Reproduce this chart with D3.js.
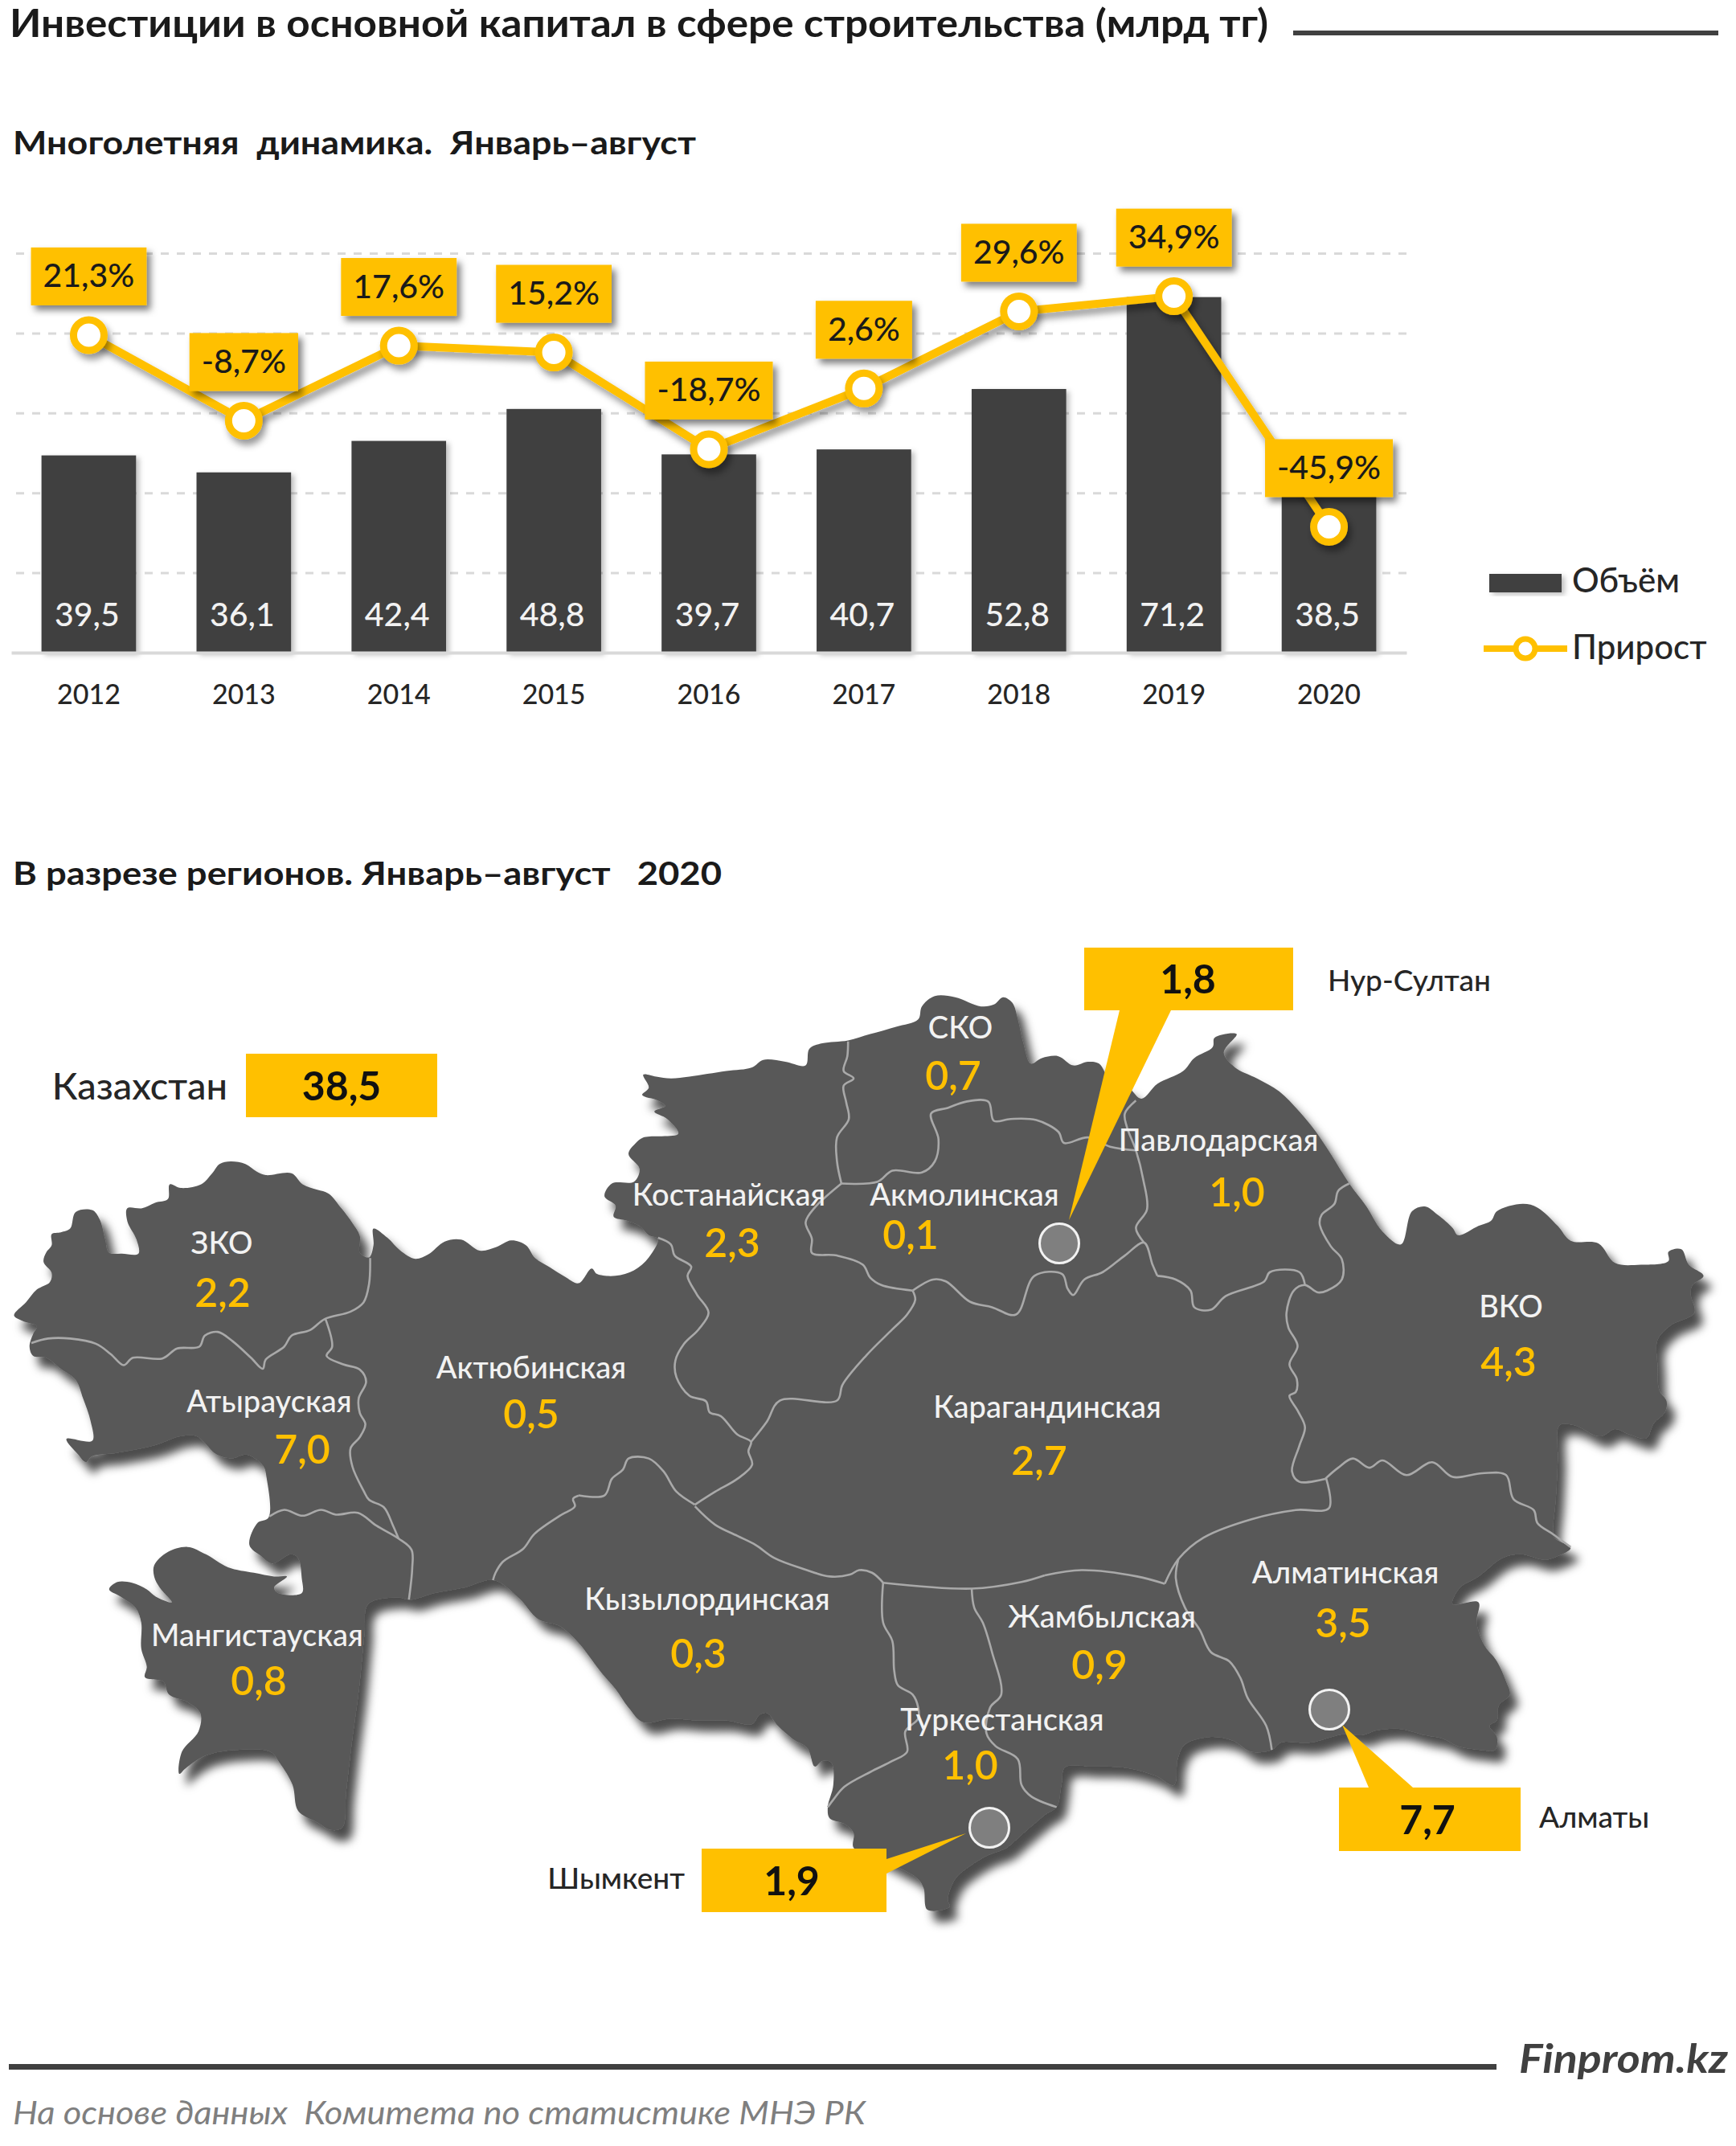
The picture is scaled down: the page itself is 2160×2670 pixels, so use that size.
<!DOCTYPE html>
<html><head><meta charset="utf-8">
<script src="https://cdn.jsdelivr.net/npm/d3@7/dist/d3.min.js"></script>
<style>html,body{margin:0;padding:0;background:#fff}svg{display:block}text{font-family:Lato,"Open Sans","Noto Sans",sans-serif}</style>
</head><body><div id="c"></div>
<script>
// ---------- chart data ----------
const years = [2012,2013,2014,2015,2016,2017,2018,2019,2020];
const volume = [39.5,36.1,42.4,48.8,39.7,40.7,52.8,71.2,38.5];
const growth = [21.3,-8.7,17.6,15.2,-18.7,2.6,29.6,34.9,-45.9];
const regionNames = ["ЗКО","Атырауская","Актюбинская","Костанайская","Акмолинская","СКО","Павлодарская","ВКО","Карагандинская","Кызылординская","Мангистауская","Туркестанская","Жамбылская","Алматинская"];
const regionValues = [2.2,7.0,0.5,2.3,0.1,0.7,1.0,4.3,2.7,0.3,0.8,1.0,0.9,3.5];
const cityNames = ["Нур-Султан","Алматы","Шымкент"];
const cityValues = [1.8,7.7,1.9];
const countryName = "Казахстан";
const countryValue = 38.5;
// ---------- layout of the map labels [name x,y, value x,y] ----------
const regionLabelPos = [[276,1547,277,1609],[335,1744,376,1804],[661,1702,661,1760],[907,1487,911,1547],[1200,1487,1133,1537],[1195,1279,1186,1339],[1516,1419,1539,1484],[1880,1626,1877,1695],[1303,1751,1293,1818],[880,1990,869,2058],[320,2035,322,2092],[1247,2140,1207,2197],[1371,2012,1368,2072],[1674,1957,1671,2020]];
// ---------- traced map (crop origin + pixel trace of each piece) ----------
const O7=[0,1400],O8=[720,1220],O9=[1440,1220],O10=[100,1780],O11=[720,1780],O12=[1300,1780];
const outlineTrace = [
[O7,[[38,515],[70,480],[100,445],[135,425],[140,400],[118,370],[125,345],[140,325],[140,295],[165,290],[190,280],[205,235],[250,230],[270,255],[285,310],[295,345],[330,348],[375,348],[370,310],[345,260],[345,225],[385,225],[420,210],[455,200],[460,160],[490,170],[545,160],[575,130],[595,105],[625,98],[665,105],[695,125],[720,135],[790,130],[820,160],[860,175],[890,185],[925,225],[955,265],[975,300],[975,345],[1000,358],[1012,325],[1012,280],[1050,305],[1085,340],[1125,362],[1160,350],[1205,315],[1250,310],[1300,340],[1345,330],[1385,312],[1425,325],[1450,360],[1490,385],[1530,410]]],
[O8,[[0,820],[35,780],[50,795],[100,800],[150,785],[190,750],[215,700],[190,690],[165,665],[130,650],[95,640],[100,610],[70,585],[90,550],[150,545],[165,510],[135,470],[155,440],[175,425],[270,415],[240,375],[205,355],[235,340],[215,325],[172,310],[190,290],[175,255],[210,260],[250,265],[300,260],[400,245],[470,235],[500,215],[560,220],[615,230],[625,185],[660,170],[730,162],[790,145],[860,125],[920,105],[930,70],[965,42],[1020,45],[1090,70],[1125,65],[1150,45],[1175,60],[1190,105],[1205,170],[1225,225],[1255,210],[1300,205],[1340,230],[1380,220],[1410,225],[1440,270],[1490,290],[1525,320]]],
[O9,[[0,280],[70,245],[100,210],[150,180],[155,155],[215,145],[180,195],[210,235],[270,265],[330,300],[385,355],[430,410],[470,470],[520,550],[565,610],[610,680],[660,715],[690,625],[725,612],[760,635],[800,670],[815,690],[870,665],[905,650],[920,625],[990,605],[1030,615],[1085,665],[1120,705],[1195,712],[1240,765],[1310,770],[1385,760],[1385,735],[1420,728],[1440,770],[1480,800],[1450,825],[1445,850],[1455,900],[1390,935],[1355,975],[1355,1040],[1360,1110],[1380,1140],[1375,1170],[1345,1200],[1325,1240],[1280,1230],[1240,1215],[1200,1235],[1130,1205],[1090,1205],[1085,1300],[1080,1400],[1072,1495]]],
[O12,[[1380,290],[1425,318],[1390,340],[1355,350],[1290,335],[1240,345],[1175,395],[1125,425],[1105,470],[1175,465],[1170,520],[1190,580],[1225,625],[1250,680],[1260,715],[1230,745],[1225,785],[1205,800],[1225,830],[1220,865],[1180,865],[1120,855],[1080,835],[1030,825],[960,808],[900,812],[860,825],[810,822],[720,845],[640,845],[615,865],[560,870],[510,840],[450,830],[380,850],[360,890],[350,960],[300,935],[230,915],[130,910],[55,912],[45,960]]],
[O11,[[1295,1020],[1265,1040],[1235,1065],[1195,1100],[1160,1130],[1110,1150],[1060,1180],[1020,1215],[1000,1270],[1005,1290],[945,1298],[935,1240],[920,1215],[860,1180],[800,1150],[745,1130],[745,1090],[720,1065],[680,1050],[675,1020],[690,960],[685,900],[660,895],[640,910],[620,860],[580,835],[540,800],[510,765],[490,770],[470,795],[400,785],[320,785],[250,780],[175,790],[135,750],[100,700],[65,660],[20,600]]],
[O10,[[1350,575],[1300,530],[1240,510],[1190,455],[1120,405],[1040,425],[960,440],[895,458],[860,452],[780,470],[770,550],[755,700],[735,850],[720,980],[710,1075],[680,1082],[640,1060],[590,1030],[575,960],[540,900],[515,870],[420,865],[340,880],[285,915],[268,930],[275,870],[320,815],[325,765],[290,735],[240,715],[225,680],[175,668],[180,640],[165,590],[165,520],[150,480],[110,450],[78,430],[100,410],[140,412],[180,430],[205,450],[248,465],[215,425],[200,395],[200,365],[235,330],[290,315],[340,335],[400,370],[470,385],[525,395],[560,395],[525,425],[535,440],[600,440],[600,400],[590,345],[570,335],[520,360],[490,340],[458,310],[480,250],[510,235],[505,130],[495,95],[450,65],[410,75],[370,65],[315,15],[270,15],[200,40],[100,60],[30,70],[15,85]]],
[O7,[[210,890],[180,850],[250,855],[245,800],[225,740],[205,690],[165,660],[125,630],[90,625],[80,600],[90,565],[100,545],[60,530]]]
];
const borderTrace = [
[O7,[[85,590],[130,578],[190,578],[260,592],[300,620],[335,650],[360,630],[440,632],[480,605],[540,600],[555,570],[590,560],[630,585],[680,630],[712,660],[720,635],[770,600],[790,570],[840,555],[880,525],[950,505],[985,480],[1000,430],[1003,360]]],
[O7,[[882,525],[900,600],[885,625],[930,648],[975,662],[992,695],[972,740],[975,780],[990,810],[975,845],[950,875],[955,925],[985,990],[1000,1015],[1040,1035],[1065,1085],[1080,1120]]],
[O7,[[730,1060],[770,1042],[820,1058],[870,1042],[910,1055],[970,1050],[1020,1085],[1080,1120],[1115,1150],[1117,1200],[1108,1285]]],
[O8,[[215,697],[250,715],[260,745],[305,775],[295,800],[320,850],[352,900],[325,945],[285,985],[262,1030],[265,1075],[300,1125],[345,1140],[355,1170],[385,1180],[430,1230],[467,1250],[460,1275],[470,1312],[430,1350],[370,1385],[315,1420]]],
[O8,[[315,1420],[265,1385],[230,1330],[190,1295],[135,1295],[120,1325],[90,1350],[70,1395],[0,1395]]],
[O10,[[1350,176],[1335,185],[1340,205],[1300,230],[1230,280],[1200,320],[1145,355],[1125,385],[1118,405]]],
[O8,[[467,1250],[510,1195],[545,1138],[700,1138],[715,1095],[780,1015],[850,945],[890,905],[912,865],[905,840]]],
[O8,[[905,840],[820,825],[790,805],[770,770],[700,745],[632,738],[632,700],[615,655],[640,615],[712,550]]],
[O8,[[730,165],[728,205],[718,245],[745,265],[718,285],[725,330],[732,375],[700,425],[700,490],[712,550]]],
[O8,[[712,550],[810,545],[850,515],[930,520],[965,490],[975,430],[955,360],[1000,345],[1050,328],[1110,328],[1125,380],[1170,375],[1240,378],[1300,410],[1315,440],[1380,425],[1440,450],[1510,460]]],
[O8,[[1510,325],[1480,360],[1485,395],[1510,460],[1530,540],[1540,620],[1510,670],[1532,710]]],
[O8,[[905,840],[960,810],[995,815],[1060,870],[1120,885],[1185,905],[1235,800],[1310,795],[1325,835],[1340,852],[1370,810],[1420,790],[1480,745],[1532,710],[1555,770],[1568,800]]],
[O9,[[0,800],[50,810],[90,840],[100,885],[145,892],[185,855],[290,815],[305,790],[385,790],[400,825]]],
[O9,[[520,550],[490,570],[480,605],[445,635],[440,660],[470,720],[500,755],[500,810],[460,840],[435,845],[400,825],[370,840],[350,900],[355,940],[380,990],[358,1040],[378,1080],[375,1115],[358,1125],[380,1165],[400,1210],[385,1260],[365,1330],[385,1358],[455,1350]]],
[O9,[[455,1350],[490,1320],[530,1295],[575,1320],[610,1300],[675,1340],[745,1305],[800,1345],[880,1335],[945,1340],[965,1405],[1020,1435],[1030,1470],[1072,1500],[1120,1535]]],
[O12,[[762,128],[770,210],[680,215],[560,240],[430,290],[362,348],[325,415]]],
[O12,[[362,348],[355,400],[380,480],[420,540],[450,600],[500,625],[530,670],[550,725],[600,800],[615,865]]],
[O12,[[325,415],[250,395],[100,378],[0,392]]],
[O11,[[1263,392],[1200,410],[1065,428],[825,412]]],
[O11,[[315,205],[370,255],[430,285],[480,310],[530,345],[610,375],[680,395],[735,390],[760,378],[795,385],[825,412]]],
[O11,[[825,412],[825,520],[850,570],[855,650],[865,690],[905,715],[920,750],[920,780],[885,815],[890,870],[850,895],[790,925],[720,965],[690,1000],[675,1020]]],
[O11,[[1065,428],[1072,480],[1095,520],[1120,600],[1145,715],[1115,750],[1105,820],[1130,855],[1190,890],[1200,960],[1225,990],[1295,1020]]]
];
// ---------- drawing ----------
const YEL="#FFC000", DK="#404040", MAP="#595959", BORDER="#a9a9a9";
const fmt = v => d3.format(".1f")(v).replace(".",",").replace("−","-");
const svg = d3.select("#c").append("svg").attr("width",2160).attr("height",2670).attr("viewBox","0 0 2160 2670");
const defs = svg.append("defs");
function shadow(id,dx,dy,sd,op){
  defs.append("filter").attr("id",id).attr("x","-20%").attr("y","-20%").attr("width","140%").attr("height","140%")
   .append("feDropShadow").attr("dx",dx).attr("dy",dy).attr("stdDeviation",sd).attr("flood-color","#000").attr("flood-opacity",op);
}
shadow("sMap",10,14,6,.7); shadow("sBox",5,6,4,.5); shadow("sLine",4,7,4,.4); shadow("sBar",4,3,3,.25);

function txt(g,s,x,y,o={}){
  const t=g.append("text").attr("x",x).attr("y",y-2).attr("dominant-baseline","central")
    .attr("text-anchor",o.anchor||"middle").attr("font-size",o.size||36).attr("fill",o.fill||"#262626")
    .attr("font-weight",o.weight||500).attr("font-style",o.italic?"italic":"normal").text(s);
  if(o.width){t.attr("textLength",o.width).attr("lengthAdjust","spacingAndGlyphs");}
  return t;
}
// headings
txt(svg,"Инвестиции в основной капитал в сфере строительства (млрд тг)",12,29,{anchor:"start",size:48,weight:700,width:1566,fill:"#1a1a1a"});
svg.append("rect").attr("x",1609).attr("y",38).attr("width",529).attr("height",6).attr("fill",DK);
txt(svg,"Многолетняя  динамика.  Январь–август",16,179,{anchor:"start",size:40,weight:700,width:850,fill:"#1a1a1a"}).style("white-space","pre");
txt(svg,"В разрезе регионов. Январь–август   2020",16,1088,{anchor:"start",size:40,weight:700,width:882,fill:"#1a1a1a"}).style("white-space","pre");

// bar + line chart
const x = d3.scaleBand().domain(years).range([14,1750]).paddingInner(.39).paddingOuter(.195);
const xc = y => x(y)+x.bandwidth()/2;
const y = d3.scaleLinear().domain([0,80]).range([812,315]);
const y2 = d3.scaleLinear().domain([-90,50]).range([812,315]);
const plot = svg.append("g");
const gg = plot.append("g").attr("transform","translate(1750,0)").call(d3.axisRight(y).tickValues(d3.range(16,81,16)).tickSize(-1736).tickFormat(""));
gg.select(".domain").remove();
gg.selectAll("line").attr("stroke","#d9d9d9").attr("stroke-width",3).attr("stroke-dasharray","10 10");
plot.append("g").attr("filter","url(#sBar)").selectAll("rect").data(years).join("rect")
  .attr("x",d=>x(d)).attr("width",x.bandwidth()).attr("y",(d,i)=>y(volume[i])).attr("height",(d,i)=>812-y(volume[i])).attr("fill",DK);
const gx = plot.append("g").attr("transform","translate(0,812)").call(d3.axisBottom(x).tickSize(0).tickPadding(0));
gx.select(".domain").attr("stroke","#d9d9d9").attr("stroke-width",4);
gx.selectAll("text").attr("font-size",34).attr("font-weight",500).attr("fill","#262626").attr("y",50).attr("dy",0).attr("dominant-baseline","central").style("font-family","Lato,'Open Sans',sans-serif");
const valLabels = plot.append("g");
years.forEach((yr,i)=>txt(valLabels,fmt(volume[i]),xc(yr)-2,765,{size:41,fill:"#f2f2f2"}));
const lineGen = d3.line().x((d,i)=>xc(years[i])).y(d=>y2(d));
const lg = plot.append("g");
lg.append("path").attr("d",lineGen(growth)).attr("fill","none").attr("stroke",YEL).attr("stroke-width",10).attr("stroke-linejoin","round").attr("filter","url(#sLine)");
lg.append("g").attr("filter","url(#sLine)").selectAll("circle").data(growth).join("circle").attr("cx",(d,i)=>xc(years[i])).attr("cy",d=>y2(d)).attr("r",19).attr("fill","#fff").attr("stroke",YEL).attr("stroke-width",9);
const lab = plot.append("g");
growth.forEach((g,i)=>{
  const s=fmt(g)+"%", cx=xc(years[i]), cy=y2(g)-73;
  const tg=lab.append("g");
  const t=txt(tg,s,cx,cy,{size:41,fill:"#1a1a1a"});
  const w=t.node().getComputedTextLength()+30;
  tg.insert("rect","text").attr("x",cx-w/2).attr("y",cy-36).attr("width",w).attr("height",72).attr("fill",YEL).attr("filter","url(#sBox)");
});
// legend
const lgd=svg.append("g");
lgd.append("rect").attr("x",1853).attr("y",714).attr("width",90).attr("height",23).attr("fill",DK).attr("filter","url(#sBar)");
txt(lgd,"Объём",1956,723,{anchor:"start",size:42,fill:"#262626"});
lgd.append("path").attr("d","M1846,807H1950").attr("stroke",YEL).attr("stroke-width",8);
lgd.append("circle").attr("cx",1898).attr("cy",807).attr("r",12).attr("fill","#fff").attr("stroke",YEL).attr("stroke-width",7);
txt(lgd,"Прирост",1956,806,{anchor:"start",size:42,fill:"#262626"});

// map
const cropX = d3.scaleLinear().domain([0,1568]).range([0,720]);
const toFull = ([o,pts]) => pts.map(p=>[o[0]+cropX(p[0]),o[1]+cropX(p[1])]);
const mapLine = d3.line().curve(d3.curveCatmullRom.alpha(.5));
const mapG = svg.append("g");
const outline = outlineTrace.flatMap(toFull);
mapG.append("path").attr("d",d3.line().curve(d3.curveCatmullRomClosed.alpha(.5))(outline)).attr("fill",MAP).attr("filter","url(#sMap)");
mapG.append("g").selectAll("path").data(borderTrace.map(toFull)).join("path").attr("d",mapLine).attr("fill","none").attr("stroke",BORDER).attr("stroke-width",2.6).attr("stroke-linejoin","round");

// callouts
const cityBox = [[1349,1179,260,78],[1666,2224,226,79],[873,2300,230,79]];
const cityPt = [[1318,1547],[1654,2127],[1231,2274]];
const wedges = [[[1393,1257],[1457,1257],[1330,1518]],[[1703,2224],[1758,2224],[1670,2146]],[[1103,2313],[1103,2331],[1202,2281]]];
const cityLabel = [[1652,1220,"start"],[1915,2261,"start"],[852,2337,"end"]];
const cg = svg.append("g");
cg.selectAll("path.w").data(wedges).join("path").attr("class","w").attr("d",d=>d3.line()(d)+"Z").attr("fill",YEL);
cg.selectAll("rect.b").data(cityBox).join("rect").attr("class","b").attr("x",d=>d[0]).attr("y",d=>d[1]).attr("width",d=>d[2]).attr("height",d=>d[3]).attr("fill",YEL);
cg.selectAll("circle").data(cityPt).join("circle").attr("cx",d=>d[0]).attr("cy",d=>d[1]).attr("r",24.5).attr("fill","#7f7f7f").attr("stroke","#f2f2f2").attr("stroke-width",3);
cityNames.forEach((n,i)=>{
  const b=cityBox[i];
  txt(cg,fmt(cityValues[i]),b[0]+b[2]/2-(i==0?1:3),b[1]+b[3]/2+1,{size:50,weight:700,fill:"#111"});
  txt(cg,n,cityLabel[i][0],cityLabel[i][1],{anchor:cityLabel[i][2],size:37});
});
cg.append("rect").attr("x",306).attr("y",1311).attr("width",238).attr("height",79).attr("fill",YEL);
txt(cg,fmt(countryValue),425,1352,{size:50,weight:700,fill:"#111"});
txt(cg,countryName,283,1352,{anchor:"end",size:47,fill:"#262626"});

// region labels
const rg = svg.append("g");
regionNames.forEach((n,i)=>{
  const p=regionLabelPos[i];
  txt(rg,n,p[0],p[1],{size:38,fill:"#f2f2f2"});
  txt(rg,fmt(regionValues[i]),p[2],p[3],{size:50,fill:YEL,weight:600});
});

// footer
svg.append("rect").attr("x",11).attr("y",2568).attr("width",1851).attr("height",7).attr("fill",DK);
txt(svg,"Finprom.kz",1890,2562,{anchor:"start",size:50,weight:700,italic:true,fill:"#404040",width:260});
txt(svg,"На основе данных  Комитета по статистике МНЭ РК",16,2630,{anchor:"start",size:40,italic:true,weight:400,fill:"#7f7f7f",width:1061}).style("white-space","pre");
</script></body></html>
